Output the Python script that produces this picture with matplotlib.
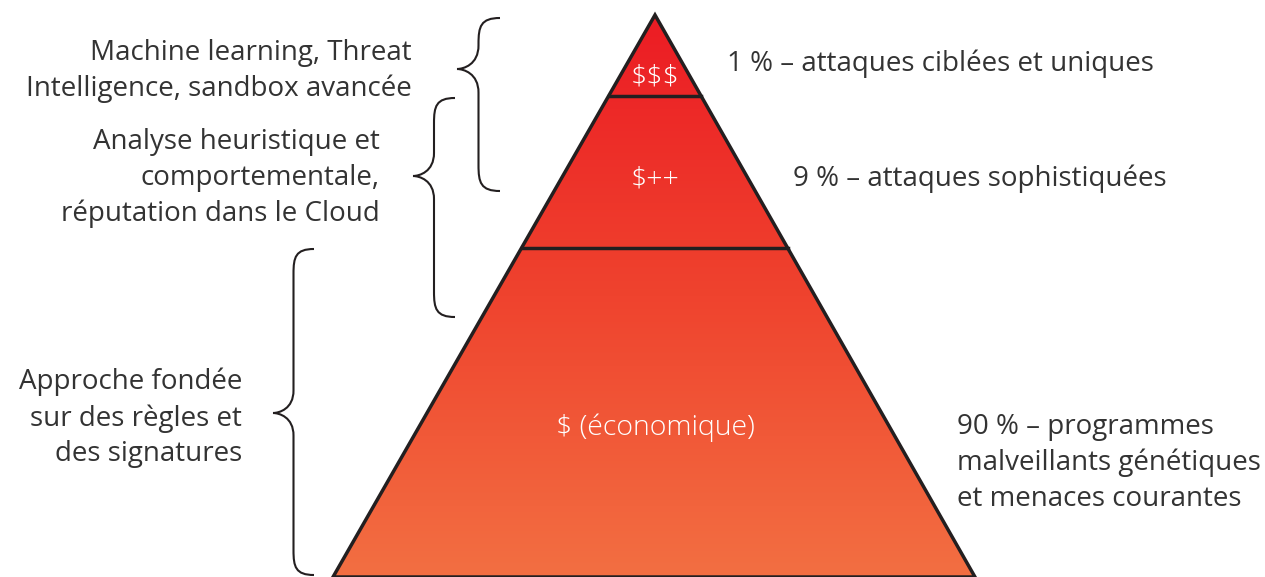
import numpy as np
import matplotlib.pyplot as plt
from matplotlib.path import Path
from matplotlib.patches import Polygon, PathPatch
from matplotlib.colors import LinearSegmentedColormap

plt.rcParams['font.family'] = ['Open Sans', 'DejaVu Sans']

# tiers of the pyramid, top to bottom
tier_labels = ["$$$", "$++", "$ (économique)"]
tier_desc = ["1 % – attaques ciblées et uniques",
             "9 % – attaques sophistiquées",
             "90 % – programmes\nmalveillants génétiques\net menaces courantes"]
methods = ["Machine learning, Threat\nIntelligence, sandbox avancée",
           "Analyse heuristique et\ncomportementale,\nréputation dans le Cloud",
           "Approche fondée\nsur des règles et\ndes signatures"]

W, H = 1265, 577
fig = plt.figure(figsize=(W / 100, H / 100), dpi=100)
ax = fig.add_axes([0, 0, 1, 1])
ax.set_xlim(0, W)
ax.set_ylim(H, 0)
ax.axis('off')

apex = (655, 15)
base_l = (333, 577)
base_r = (975, 577)
cuts = [96, 248]  # y of tier boundaries


def x_at(y, side):
    t = (y - apex[1]) / (base_l[1] - apex[1])
    end = base_l if side == 'l' else base_r
    return apex[0] + t * (end[0] - apex[0])


# gradient fill clipped to the triangle
cmap = LinearSegmentedColormap.from_list('pyr', ['#ec1c24', '#ef432e', '#f36f42'])
grad = np.linspace(0, 1, 256).reshape(-1, 1)
im = ax.imshow(grad, cmap=cmap, extent=[base_l[0], base_r[0], H, apex[1]],
               aspect='auto', zorder=1)
tri = Polygon([apex, base_l, base_r], closed=True, facecolor='none',
              edgecolor='#231f20', lw=2.5, zorder=3, joinstyle='miter')
ax.add_patch(tri)
im.set_clip_path(tri)

for y in cuts:
    ax.plot([x_at(y, 'l'), x_at(y, 'r')], [y, y], color='#231f20', lw=2.5, zorder=3)

# labels inside
label_y = [77, 180, 428]
for lab, y in zip(tier_labels, label_y):
    ax.text(655, y, lab, color='white', fontsize=20.5, ha='center', va='center',
            fontweight='light', zorder=4)

# right-side descriptions
desc_pos = [(727, 64), (793, 179), (957, 463)]
for d, (x, y) in zip(tier_desc, desc_pos):
    ax.text(x, y, d, color='#333333', fontsize=20, ha='left', va='center',
            linespacing=1.36)

# left-side methods
meth_pos = [(412, 71), (380, 178), (242, 418)]
for m, (x, y) in zip(methods, meth_pos):
    ax.text(x, y, m, color='#333333', fontsize=20, ha='right', va='center',
            linespacing=1.36, multialignment='right')


def brace(x_tip, y_top, y_bot, y_tip, x_end):
    xv = x_tip + (x_end - x_tip) * 0.5
    r = (x_end - xv)
    verts = [(x_end, y_top),
             (xv + r * 0.1, y_top), (xv, y_top + r * 0.4), (xv, y_top + r * 1.2),
             (xv, y_tip - r * 1.1),
             (xv, y_tip - r * 0.2), (x_tip + r * 0.3, y_tip), (x_tip, y_tip),
             (x_tip + r * 0.3, y_tip), (xv, y_tip + r * 0.2), (xv, y_tip + r * 1.1),
             (xv, y_bot - r * 1.2),
             (xv, y_bot - r * 0.4), (xv + r * 0.1, y_bot), (x_end, y_bot)]
    codes = [Path.MOVETO,
             Path.CURVE4, Path.CURVE4, Path.CURVE4,
             Path.LINETO,
             Path.CURVE4, Path.CURVE4, Path.CURVE4,
             Path.CURVE4, Path.CURVE4, Path.CURVE4,
             Path.LINETO,
             Path.CURVE4, Path.CURVE4, Path.CURVE4]
    ax.add_patch(PathPatch(Path(verts, codes), facecolor='none',
                           edgecolor='#231f20', lw=1.5, zorder=2))


brace(457, 18, 191, 69, 500)
brace(413, 98, 317, 176, 455)
brace(273, 249, 575, 413, 314)

fig.savefig('out.png', dpi=100)
